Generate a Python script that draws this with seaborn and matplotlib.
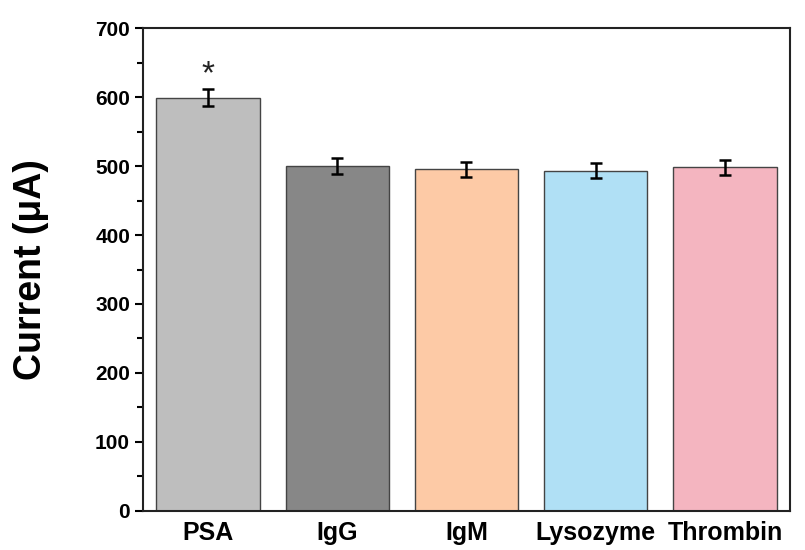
import pandas as pd
import matplotlib.pyplot as plt
import seaborn as sns
from matplotlib.ticker import MultipleLocator

# the five proteins tested
proteins = ["PSA", "IgG", "IgM", "Lysozyme", "Thrombin"]
current = [599, 500, 495, 493, 498]
err = [12, 11, 11, 11, 11]
bar_colors = ["#bebebe", "#878787", "#fdcaa6", "#b0e0f5", "#f4b5c0"]

df = pd.DataFrame({"protein": proteins, "current": current})

sns.set_style("ticks")
plt.rcParams["font.family"] = ["Liberation Sans", "DejaVu Sans"]
plt.rcParams["text.color"] = "black"
plt.rcParams["xtick.color"] = "black"
plt.rcParams["ytick.color"] = "black"
plt.rcParams["axes.labelcolor"] = "black"

fig = plt.figure(figsize=(8.05, 5.5), dpi=100)
ax = fig.add_axes([0.178, 0.071, 0.803, 0.878])

sns.barplot(data=df, x="protein", y="current", hue="protein",
            palette=bar_colors, legend=False, width=0.8, saturation=1,
            edgecolor="#444444", linewidth=1.0, ax=ax)
ax.errorbar(range(len(proteins)), current, yerr=err, fmt="none",
            ecolor="black", elinewidth=1.8, capsize=4.5, capthick=1.8)

# significance star over PSA
ax.text(0, 632, "*", ha="center", va="center", fontsize=24, color="#222222")

ax.set_xlim(-0.5, 4.5)
ax.set_ylim(0, 700)
ax.yaxis.set_major_locator(MultipleLocator(100))
ax.yaxis.set_minor_locator(MultipleLocator(50))
ax.tick_params(axis="x", length=0, labelsize=18, pad=7)
ax.tick_params(axis="y", which="major", length=6, width=1.5, labelsize=15)
ax.tick_params(axis="y", which="minor", length=4, width=1.5)
for lab in ax.get_xticklabels() + ax.get_yticklabels():
    lab.set_fontweight("bold")
for s in ax.spines.values():
    s.set_linewidth(1.5)
    s.set_color("#222222")

ax.set_xlabel("")
ax.set_ylabel("Current (μA)", fontsize=27, fontweight="bold")
ax.yaxis.set_label_coords(-0.146, 0.5)

fig.savefig("out.png", dpi=100)
